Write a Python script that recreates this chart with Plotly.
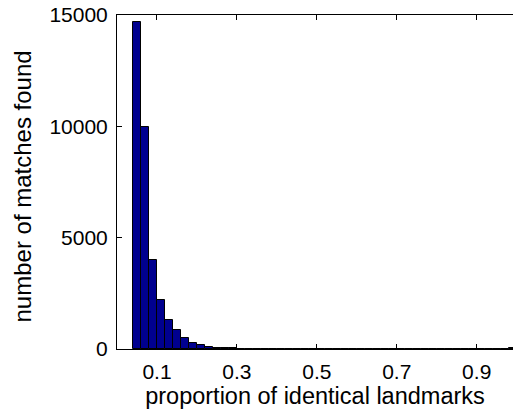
import plotly.graph_objects as go

bin_centers = [round(0.05 + 0.02 * i, 2) for i in range(48)]
counts = [14700, 9950, 4000, 2200, 1300, 840, 480, 285, 160, 90,
          55, 38, 28, 22, 18, 12, 9, 7, 5, 4,
          3, 3, 2, 2, 2, 2, 1, 1, 1, 1,
          1, 1, 1, 1, 1, 1, 1, 1, 1, 1,
          15, 1, 1, 1, 1, 1, 1, 60]
x_ticks = [0.1, 0.3, 0.5, 0.7, 0.9]
x_ticklabels = ["0.1", "0.3", "0.5", "0.7", "0.9"]
y_ticks = [0, 5000, 10000, 15000]
y_ticklabels = ["0", "5000", "10000", "15000"]

fig = go.Figure(go.Bar(
    x=bin_centers, y=counts, width=0.02,
    marker=dict(color="#00008F", line=dict(color="black", width=1)),
))

font = dict(family="Liberation Sans, Arial, sans-serif", size=20, color="black")
fig.update_layout(
    width=513, height=412,
    margin=dict(l=117, r=0, t=15, b=63),
    paper_bgcolor="white", plot_bgcolor="white",
    font=font, showlegend=False, bargap=0,
    xaxis=dict(range=[0, 0.9908], tickvals=x_ticks, ticktext=x_ticklabels,
               ticks="inside", ticklen=5, tickcolor="black",
               showline=True, linecolor="black", linewidth=1, mirror="ticks",
               showgrid=False, zeroline=False,
               title=dict(text="proportion of identical landmarks", standoff=0,
                          font=dict(size=23.5)),
               tickfont=dict(size=21), ticklabelstandoff=4),
    yaxis=dict(range=[0, 15000], tickvals=y_ticks, ticktext=y_ticklabels,
               ticks="inside", ticklen=5, tickcolor="black",
               showline=True, linecolor="black", linewidth=1,
               showgrid=False, zeroline=False,
               tickfont=dict(size=21), ticklabelstandoff=4),
    annotations=[dict(text="number of matches found", textangle=-90,
                      xref="paper", yref="paper",
                      x=(22 - 117) / 396, y=(349 - 186.5) / 334,
                      xanchor="center", yanchor="middle", showarrow=False,
                      font=dict(size=24))],
)
fig.write_html("out.html")
